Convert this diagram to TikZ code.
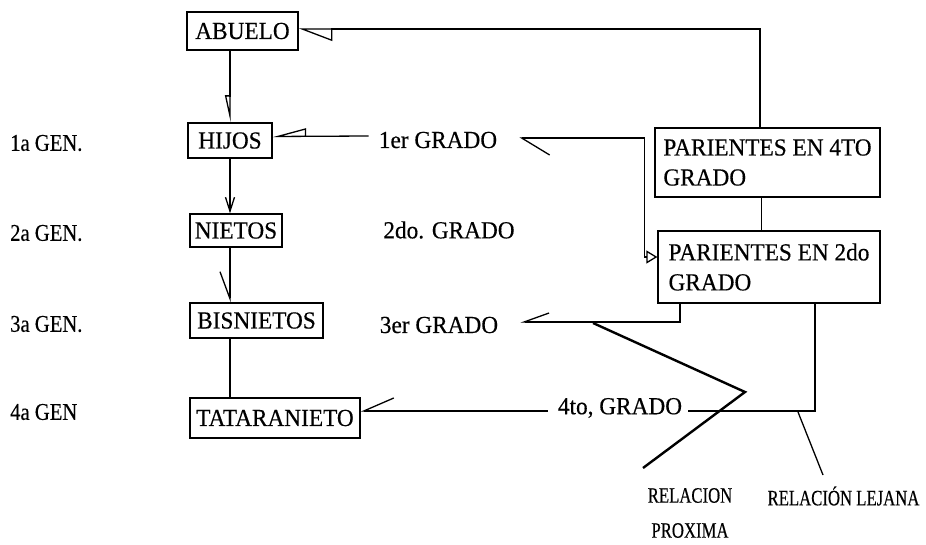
\documentclass[tikz,border=0pt]{standalone}
\usepackage{fontspec}
\setmainfont{Liberation Serif}[FakeStretch=0.95, FakeBold=0.4]
\newfontfamily\genserif{Liberation Serif}[FakeStretch=0.86, FakeBold=0.4]
\newfontfamily\narrowserif{Liberation Serif}[FakeStretch=0.76, FakeBold=0.4]
\usetikzlibrary{arrows.meta}
\tikzset{
  txt/.style={font=\fontsize{24.5}{30}\selectfont, inner sep=0pt},
  gen/.style={font=\genserif\fontsize{24}{28}\selectfont, inner sep=0pt, anchor=west},
  rel/.style={font=\narrowserif\fontsize{22}{35}\selectfont, inner sep=0pt},
  box/.style={txt, draw, line width=1.3pt},
  conn/.style={line width=1.3pt},
  arm/.style={line width=2.4pt},
  tAbu/.tip={Triangle[open, harpoon, length=32pt, width=24pt]},
  tHijTop/.tip={Triangle[open, harpoon, swap, length=24pt, width=10pt]},
  tHij/.tip={Triangle[open, harpoon, swap, length=31pt, width=16pt]},
  bGa/.tip={Straight Barb[harpoon, length=28pt, width=34pt]},
  tPd/.tip={Triangle[open, length=11pt, width=13pt]},
  vN/.tip={Straight Barb[length=14pt, width=9pt]},
  bB/.tip={Straight Barb[harpoon, swap, length=27pt, width=20pt]},
  bT/.tip={Straight Barb[harpoon, swap, length=30pt, width=26pt]},
  bGc/.tip={Straight Barb[harpoon, swap, length=25pt, width=18pt]},
}
\begin{document}
\begin{tikzpicture}[x=1pt,y=-1pt]
\useasboundingbox (0,0) rectangle (926,545);

% boxes
\node[box, minimum width=111pt, minimum height=38pt] (abuelo) at (242.5,31) {ABUELO};
\node[box, minimum width=84pt, minimum height=35pt] (hijos) at (230,140.5) {HIJOS};
\node[box, minimum width=92pt, minimum height=33pt] (nietos) at (236,230.5) {NIETOS};
\node[box, minimum width=133pt, minimum height=35pt] (bisnietos) at (256.5,320.5) {BISNIETOS};
\node[box, minimum width=170pt, minimum height=40pt] (tatara) at (275,418) {TATARANIETO};
\node[box, align=left, minimum width=225pt, minimum height=69pt] (p4) at (767.5,162.5) {PARIENTES EN 4TO\\GRADO};
\node[box, align=left, minimum width=222pt, minimum height=72pt] (p2) at (769,267) {PARIENTES EN 2do\\GRADO};

% generation labels
\node[gen] (gen1) at (10,143) {1a GEN.};
\node[gen] (gen2) at (10,233) {2a GEN.};
\node[gen] (gen3) at (10,324) {3a GEN.};
\node[gen] (gen4) at (10,412) {4a GEN};

% degree labels
\node[txt] (g1) at (438,140) {1er GRADO};
\node[txt] (g2) at (449,230) {2do. GRADO};
\node[txt] (g3) at (439,325) {3er GRADO};
\node[txt] (g4) at (620,408) {4to, GRADO};

% relation labels
\node[rel, align=center] (rp) at (690,513) {RELACION\\PROXIMA};
\node[rel] (rl) at (843.5,496) {RELACIÓN LEJANA};

% connectors
\draw[conn, -tAbu] ([xshift=-7.5pt]p4.north) |- ([yshift=2pt]abuelo.east);
\draw[conn, -tHijTop] (hijos.north |- abuelo.south) -- (hijos.north);
\draw[conn, -tHij] ([xshift=-10pt,yshift=4pt]g1.west) -- ([yshift=4pt]hijos.east);
\draw[conn, bGa-tPd] ([xshift=22pt,yshift=2pt]g1.east) -| ([xshift=-13pt,yshift=10pt]p2.west) -- ([yshift=10pt]p2.west);
\draw[conn, -vN] (hijos.south) -- (nietos.north -| hijos.south);
\draw[conn, -bB] (nietos.south -| hijos.south) -- (bisnietos.north -| hijos.south);
\draw[conn] (bisnietos.south -| hijos.south) -- (tatara.north -| hijos.south);
\draw[conn, -bT] ([xshift=-10pt,yshift=-3pt]g4.west) -- ([yshift=7pt]tatara.east);
\draw[conn] ([xshift=46pt]p2.south) |- ([xshift=6pt,yshift=-3pt]g4.east);
\draw[conn, -bGc] ([xshift=-89pt]p2.south) |- ([xshift=22pt,yshift=3pt]g3.east);
\draw[conn] ([xshift=-6pt]p4.south) -- ([xshift=-6pt]p4.south |- p2.north);

% pointers to relation labels
\coordinate (va) at (593,323);
\coordinate (vb) at (745,392);
\coordinate (vc) at (643,468);
\draw[arm] (va) -- (vb) -- (vc);
\coordinate (la) at (798,412);
\coordinate (lb) at (823,475);
\draw[conn] (la) -- (lb);
\end{tikzpicture}
\end{document}
